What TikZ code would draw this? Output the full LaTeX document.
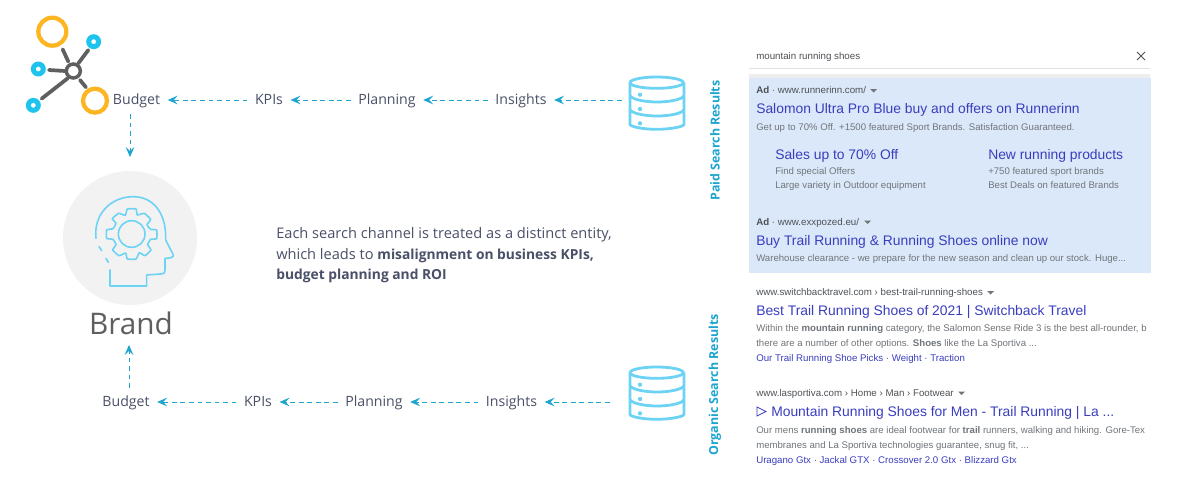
\documentclass[tikz,border=0pt]{standalone}
\usepackage{fontspec}
\setmainfont{Open Sans}
\newfontfamily\serpfont{Liberation Sans}
\usetikzlibrary{arrows.meta}
\definecolor{flowc}{HTML}{1CA5CF}
\definecolor{iconc}{HTML}{6DD3F5}
\definecolor{netblue}{HTML}{1FC4EE}
\definecolor{neto}{HTML}{FDB522}
\definecolor{netg}{HTML}{5F5F5F}
\definecolor{labc}{HTML}{4A5068}
\definecolor{adbg}{HTML}{DBE8F9}
\definecolor{titc}{HTML}{3A3EBE}
\definecolor{snipc}{HTML}{70757A}
\definecolor{urlc}{HTML}{4D5156}
\newcommand{\px}[1]{\fontsize{#1}{#1}\selectfont}
\tikzset{
  lab/.style={inner xsep=5.5pt,inner ysep=0pt,text height=9pt,text depth=2pt,text=labc,font=\px{10.6pt}},
  flow/.style={flowc,line width=0.7pt,dash pattern=on 3.6pt off 2.8pt,-{Stealth[length=7.5pt,width=6.5pt,inset=3pt]}},
  vert/.style={flowc,rotate=90,font=\bfseries\px{9.3pt},inner sep=0pt},
  net/.style={line width=2.8pt,netg,line cap=round},
  iconl/.style={iconc,line width=1.2pt,line cap=round,line join=round},
  dbl/.style={iconc,line width=2.1pt,line join=round},
  url/.style={anchor=base west,inner sep=0pt,text=urlc,font=\serpfont\px{7.3pt}},
  tit/.style={anchor=base west,inner sep=0pt,text=titc,font=\serpfont\px{10.4pt}},
  snip/.style={anchor=base west,inner sep=0pt,text=snipc,font=\serpfont\px{7.2pt}},
  lnk/.style={anchor=base west,inner sep=0pt,text=titc,font=\serpfont\px{7.25pt}},
  body/.style={anchor=base west,inner sep=0pt,text=labc,font=\px{10.95pt}},
  tri/.style={fill=snipc,draw=none},
}
\newcommand{\bd}[1]{{\bfseries\px{10.35pt}#1}}
\newcommand{\dbicon}[1]{%
\begin{scope}[shift={(610,#1)},scale=1/3]
  \draw[dbl] (60,68) arc[start angle=180,end angle=-180,x radius=80,y radius=17];
  \draw[dbl] (60,68) -- (60,193) .. controls (60,200) and (100,208) .. (140,208) .. controls (180,208) and (222,200) .. (222,193) -- (222,68);
  \draw[dbl] (60,108) .. controls (70,120) and (110,126) .. (140,126) .. controls (175,126) and (212,120) .. (222,108);
  \draw[dbl] (60,150) .. controls (70,162) and (110,168) .. (140,168) .. controls (175,168) and (212,162) .. (222,150);
  \fill[iconc] (90,104) circle[radius=6.5] (90,147) circle[radius=6.5] (90,190) circle[radius=6.5];
\end{scope}}
\begin{document}
\begin{tikzpicture}[x=0.75pt,y=-0.75pt]
\useasboundingbox[fill=white] (0,0) rectangle (1200,500);

% network icon
\begin{scope}[scale=1/3]
  \draw[neto,line width=3.2pt] (157,95) circle[radius=42];
  \draw[neto,line width=3.2pt] (285,302) circle[radius=36];
  \foreach \p in {(281,125),(115,207),(100,316)}
    \fill[netblue,even odd rule] \p circle[radius=22.5] \p circle[radius=7.5];
  \draw[net] (188,148) -- (205,185);
  \draw[net] (265,150) -- (235,190);
  \draw[net] (147,210) -- (195,213);
  \draw[net] (203,235) -- (125,296);
  \draw[net] (240,240) -- (258,262);
  \draw[netg,line width=2.6pt] (220,213) circle[radius=21];
\end{scope}

% brand icon
\fill[black!5] (130,238) circle[radius=67];
\begin{scope}[shift={(50,160)},scale=1/3]
  \draw[iconl] (138,235) .. controls (130,160) and (185,110) .. (250,110) .. controls (310,110) and (350,160) .. (347,240)
     -- (370,285) .. controls (372,292) and (360,295) .. (345,295) -- (345,330) .. controls (345,340) and (340,342) .. (330,342)
     -- (290,345) -- (290,378) -- (180,378) -- (180,330);
  \draw[iconl] (147,260) -- (155,272);
  \draw[iconl] (168,295) -- (175,307);
  \draw[iconl] (245,222) circle[radius=40];
  \draw[iconl] plot[smooth cycle,tension=0.25] coordinates {
    (232,147) (258,147) (262,165) (283,160) (302,178) (291,194) (302,208) (320,210) (320,236) (302,238)
    (293,254) (303,270) (285,287) (268,278) (258,297) (232,297) (227,279) (207,287) (188,270) (198,254)
    (189,238) (170,235) (170,210) (189,206) (198,190) (187,176) (206,160) (226,166)};
\end{scope}
\node (brand) [inner sep=0pt,text=netg,font=\px{22.3pt}] at (131,323) {Brand};

% databases
\dbicon{60}
\dbicon{350}
\node (dbA) [minimum width=52.5pt,minimum height=30pt,inner sep=0pt] at (657,100) {};
\node (dbB) [minimum width=69pt,minimum height=30pt,inner sep=0pt] at (656,402) {};

% top flow
\node (bt) [lab] at (136.5,100) {Budget};
\node (kt) [lab] at (269,100) {KPIs};
\node (pt) [lab] at (387,100) {Planning};
\node (it) [lab] at (521,100) {Insights};
\draw[flow] (dbA.west) -- (it.east);
\draw[flow] (it.west) -- (pt.east);
\draw[flow] (pt.west) -- (kt.east);
\draw[flow] (kt.west) -- (bt.east);
\coordinate (btS) at (130,114);
\coordinate (brT) at (130,157);
\draw[flow] (btS) -- (brT);

% bottom flow
\node (bb) [lab] at (126,402) {Budget};
\node (kb) [lab] at (258,402) {KPIs};
\node (pb) [lab] at (374,402) {Planning};
\node (ib) [lab] at (511.5,402) {Insights};
\draw[flow] (dbB.west) -- (ib.east);
\draw[flow] (ib.west) -- (pb.east);
\draw[flow] (pb.west) -- (kb.east);
\draw[flow] (kb.west) -- (bb.east);
\coordinate (bbN) at (129,388);
\coordinate (brB) at (129,345);
\draw[flow] (bbN) -- (brB);

% central text
\node (c1) [body] at (276,238) {Each search channel is treated as a distinct entity,};
\node (c2) [body] at (276,259) {which leads to \bd{misalignment on business KPIs,}};
\node (c3) [body] at (276,279) {\bd{budget planning and ROI}};

% vertical labels
\node (vp) [vert] at (715,140.5) {Paid Search Results};
\node (vo) [vert] at (715,385) {Organic Search Results};

% search bar
\draw[black!12,line width=0.6pt] (749,68.5) -- (1150,68.5);
\fill[black!7] (749,74) rectangle (1150,78);
\node (q) [anchor=base west,inner sep=0pt,text=urlc,font=\serpfont\px{7.3pt}] at (756,59.5) {mountain running shoes};
\coordinate (x1) at (1137,52);
\coordinate (x2) at (1145,60);
\coordinate (x3) at (1137,60);
\coordinate (x4) at (1145,52);
\draw[urlc,line width=0.6pt] (x1) -- (x2) (x3) -- (x4);

% ads
\fill[adbg] (749,78) rectangle (1151,273);
\node (a1) [url] at (756,93) {\textbf{Ad} · www.runnerinn.com/};
\fill[tri] (870,89) -- (877,89) -- (873.5,92.5) -- cycle;
\node (a2) [tit] at (756,113) {Salomon Ultra Pro Blue buy and offers on Runnerinn};
\node (a3) [snip] at (756,130.5) {Get up to 70\% Off. +1500 featured Sport Brands. Satisfaction Guaranteed.};
\node (a4) [tit] at (775,159) {Sales up to 70\% Off};
\node (a5) [snip] at (775,174.5) {Find special Offers};
\node (a6) [snip] at (775,188.5) {Large variety in Outdoor equipment};
\node (a7) [tit] at (988,159) {New running products};
\node (a8) [snip] at (988,174.5) {+750 featured sport brands};
\node (a9) [snip] at (988,188.5) {Best Deals on featured Brands};
\node (b1) [url] at (756,225) {\textbf{Ad} · www.exxpozed.eu/};
\fill[tri] (864,220.5) -- (871,220.5) -- (867.5,224) -- cycle;
\node (b2) [tit] at (756,245) {Buy Trail Running \& Running Shoes online now};
\node (b3) [snip] at (756,261.5) {Warehouse clearance - we prepare for the new season and clean up our stock. Huge...};

% organic
\node (o1) [url] at (756,295.5) {www.switchbacktravel.com › best-trail-running-shoes};
\fill[tri] (987,291) -- (994,291) -- (990.5,294.5) -- cycle;
\node (o2) [tit] at (756,315) {Best Trail Running Shoes of 2021 | Switchback Travel};
\begin{scope}
  \clip (749,300) rectangle (1148,340);
  \node (o3) [snip] at (756,331.5) {Within the \textbf{mountain running} category, the Salomon Sense Ride 3 is the best all-rounder, b};
\end{scope}
\node (o4) [snip] at (756,346.5) {there are a number of other options. \textbf{Shoes} like the La Sportiva ...};
\node (o5) [lnk] at (756,361.5) {Our Trail Running Shoe Picks · Weight · Traction};
\node (l1) [url] at (756,396.5) {www.lasportiva.com › Home › Man › Footwear};
\fill[tri] (958,391.5) -- (965,391.5) -- (961.5,395) -- cycle;
\draw[titc,line width=0.6pt] (757,407) -- (766,411.5) -- (757,416) -- cycle;
\node (l2) [tit] at (771,416) {Mountain Running Shoes for Men - Trail Running | La ...};
\node (l3) [snip] at (756,433.5) {Our mens \textbf{running shoes} are ideal footwear for \textbf{trail} runners, walking and hiking. Gore-Tex};
\node (l4) [snip] at (756,448.5) {membranes and La Sportiva technologies guarantee, snug fit, ...};
\node (l5) [lnk] at (756,463) {Uragano Gtx · Jackal GTX · Crossover 2.0 Gtx · Blizzard Gtx};
\end{tikzpicture}
\end{document}
